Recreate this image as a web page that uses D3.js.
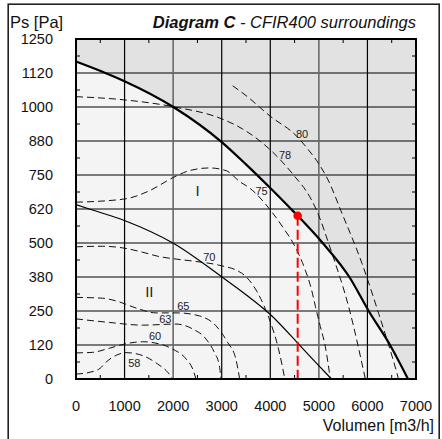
<!DOCTYPE html>
<html>
<head>
<meta charset="utf-8">
<script src="https://cdn.jsdelivr.net/npm/d3@7"></script>
<style>
  body { margin: 0; background: #fff; }
  svg { display: block; }
</style>
</head>
<body>
<div class="chart"></div>
<script>
// axis ticks
let xTicks = [0, 1000, 2000, 3000, 4000, 5000, 6000, 7000]
let yTicks = [0, 125, 250, 375, 500, 625, 750, 875, 1000, 1125, 1250]
let yTickLabels = ["0", "120", "250", "380", "500", "620", "750", "880", "1000", "1120", "1250"]

// fan curves [volume m3/h, pressure Pa]
let fanMax = [[0, 1167], [604, 1125], [1009, 1094], [2004, 1000], [3006, 870], [3500, 789], [4000, 702],
  [4427, 625], [4564, 600], [5079, 500], [5628, 375], [6026, 250], [6465, 125], [6835, 0]]
let fanLow = [[0, 641], [274, 625], [1009, 582], [2004, 499], [3006, 375], [3500, 310], [4001, 237],
  [4560, 133], [4920, 64], [5260, 0]]

// sound level isolines
let iso80 = [[3226, 1078], [3500, 1042], [4000, 966], [4530, 895], [4770, 846], [5003, 790], [5181, 735],
  [5476, 609], [5888, 425], [6231, 241], [6608, 21], [6640, 0]]
let iso78 = [[0, 1038], [1009, 1026], [2004, 1001], [3006, 956], [3432, 919], [4015, 840], [4460, 754],
  [4838, 662], [4941, 625], [5270, 462], [5613, 266], [5957, 0]]
let iso75 = [[0, 650], [1009, 662], [1510, 692], [2004, 741], [2334, 766], [2745, 776], [3089, 766],
  [3376, 725], [3582, 701], [4028, 615], [4270, 555], [4500, 490], [4700, 410], [4851, 327],
  [4930, 266], [5030, 193], [5133, 119], [5236, 0]]
let iso70 = [[0, 486], [549, 488], [1030, 480], [1373, 466], [1716, 450], [2059, 441], [2471, 432],
  [2931, 419], [3411, 389], [3730, 320], [3970, 225], [4170, 110], [4300, 0]]
let iso65 = [[0, 300], [550, 297], [900, 283], [1250, 260], [1650, 243], [2100, 243], [2540, 232],
  [2880, 196], [3120, 135], [3290, 74], [3370, 0]]
let iso63 = [[0, 221], [686, 208], [1373, 198], [2059, 202], [2402, 184], [2677, 147], [2848, 98],
  [2951, 49], [2985, 0]]
let iso60 = [[0, 96], [343, 98], [686, 113], [1009, 129], [1373, 137], [1716, 129], [1990, 110],
  [2265, 74], [2402, 37], [2471, 0]]
let iso58 = [[0, 18], [290, 25], [494, 39], [632, 64], [838, 88], [1030, 97], [1373, 86], [1682, 55],
  [1887, 25], [1990, 0]]

let isoText = ["80", "78", "75", "70", "65", "63", "60", "58"]
let isoLabelX = [4653, 4303, 3822, 2745, 2210, 1840, 1627, 1201]
let isoLabelY = [900, 825, 692, 447, 267, 221, 159, 59]

let regionText = ["I", "II"]
let regionX = [2505, 1510]
let regionY = [693, 321]

// working point
let workPoint = [4564, 600]

let width = 442
let height = 439
let font = "'Liberation Sans', Arial, Helvetica, sans-serif"

let svg = d3.select('.chart')
  .append('svg')
  .attr('width', width)
  .attr('height', height)
  .style('font-family', font)

// outer frame
svg.append('rect')
  .attr('x', 8.2).attr('y', 4.2)
  .attr('width', 431).attr('height', 460)
  .attr('fill', '#fff')
  .attr('stroke', '#222')
  .attr('stroke-width', 1.6)

//scales
let x = d3.scaleLinear().domain([0, 7000]).range([76, 416])
let y = d3.scaleLinear().domain([0, 1250]).range([379, 39])

// backgrounds: dark above max curve, light below
svg.append('rect')
  .attr('x', x(0)).attr('y', y(1250))
  .attr('width', x(7000) - x(0)).attr('height', y(0) - y(1250))
  .attr('fill', '#e2e2e2')

let area = d3.area()
  .x(d => x(d[0]))
  .y0(y(0))
  .y1(d => y(d[1]))
  .curve(d3.curveMonotoneX)

svg.append('path')
  .attr('fill', '#f4f4f4')
  .attr('d', area(fanMax))

// grid
let grid = svg.append('g')
grid.selectAll('.hgrid')
  .data(yTicks.slice(1, -1))
  .join('line')
  .attr('x1', x(0)).attr('x2', x(7000))
  .attr('y1', d => y(d)).attr('y2', d => y(d))
  .attr('stroke', '#000')
  .attr('stroke-width', 1.2)

grid.selectAll('.vgrid')
  .data(xTicks.slice(1, -1))
  .join('line')
  .attr('x1', d => x(d)).attr('x2', d => x(d))
  .attr('y1', y(0)).attr('y2', y(1250))
  .attr('stroke', d => (d == 2000 || d == 5000) ? '#6a6a6a' : '#000')
  .attr('stroke-width', d => (d == 2000 || d == 5000) ? 1.6 : 1.2)

let line = d3.line()
  .x(d => x(d[0]))
  .y(d => y(d[1]))
  .curve(d3.curveMonotoneX)

// isolines
let isolines = [iso80, iso78, iso75, iso70, iso65, iso63, iso60, iso58]
svg.append('g')
  .selectAll('path')
  .data(isolines)
  .join('path')
  .attr('fill', 'none')
  .attr('stroke', '#111')
  .attr('stroke-width', 1)
  .attr('stroke-dasharray', '7,4')
  .attr('d', d => line(d))

// fan curves
svg.append('path')
  .attr('fill', 'none')
  .attr('stroke', '#000')
  .attr('stroke-width', 1.2)
  .attr('d', line(fanLow))

svg.append('path')
  .attr('fill', 'none')
  .attr('stroke', '#000')
  .attr('stroke-width', 2.2)
  .attr('d', line(fanMax))

// working point
svg.append('line')
  .attr('x1', x(workPoint[0])).attr('x2', x(workPoint[0]))
  .attr('y1', y(workPoint[1])).attr('y2', y(0))
  .attr('stroke', '#f00')
  .attr('stroke-width', 2)
  .attr('stroke-dasharray', '10,4')

svg.append('circle')
  .attr('cx', x(workPoint[0]))
  .attr('cy', y(workPoint[1]))
  .attr('r', 4.3)
  .attr('fill', '#f00')

// plot frame
svg.append('rect')
  .attr('x', x(0)).attr('y', y(1250))
  .attr('width', x(7000) - x(0)).attr('height', y(0) - y(1250))
  .attr('fill', 'none')
  .attr('stroke', '#000')
  .attr('stroke-width', 2)

// minor ticks on all four sides
let xMinor = xTicks.slice(0, -1).map(d => d + 500)
let yMinor = yTicks.slice(0, -1).map(d => d + 62.5)
let ticks = svg.append('g').attr('stroke', '#000').attr('stroke-width', 1)
xMinor.forEach(d => {
  ticks.append('line').attr('x1', x(d)).attr('x2', x(d)).attr('y1', y(1250)).attr('y2', y(1250) + 4)
  ticks.append('line').attr('x1', x(d)).attr('x2', x(d)).attr('y1', y(0)).attr('y2', y(0) - 4)
})
yMinor.forEach(d => {
  ticks.append('line').attr('x1', x(0)).attr('x2', x(0) + 4).attr('y1', y(d)).attr('y2', y(d))
  ticks.append('line').attr('x1', x(7000)).attr('x2', x(7000) - 4).attr('y1', y(d)).attr('y2', y(d))
})

// tick labels
svg.append('g')
  .selectAll('text')
  .data(yTicks)
  .join('text')
  .attr('x', 53)
  .attr('y', d => y(d) + 5)
  .attr('text-anchor', 'end')
  .attr('font-size', '14.5px')
  .attr('fill', '#111')
  .text((d, i) => yTickLabels[i])

svg.append('g')
  .selectAll('text')
  .data(xTicks)
  .join('text')
  .attr('x', d => x(d))
  .attr('y', 411)
  .attr('text-anchor', 'middle')
  .attr('font-size', '14.5px')
  .attr('fill', '#111')
  .text(d => d)

// curve labels
svg.append('g')
  .selectAll('text')
  .data(isoText)
  .join('text')
  .attr('x', (d, i) => x(isoLabelX[i]))
  .attr('y', (d, i) => y(isoLabelY[i]) + 4)
  .attr('text-anchor', 'middle')
  .attr('font-size', '11px')
  .attr('fill', '#222')
  .text(d => d)

svg.append('g')
  .selectAll('text')
  .data(regionText)
  .join('text')
  .attr('x', (d, i) => x(regionX[i]))
  .attr('y', (d, i) => y(regionY[i]) + 5.5)
  .attr('text-anchor', 'middle')
  .attr('font-size', '15px')
  .attr('fill', '#222')
  .text(d => d)

// titles
svg.append('text')
  .attr('x', 10).attr('y', 28)
  .attr('font-size', '16.5px')
  .attr('fill', '#111')
  .text('Ps [Pa]')

let title = svg.append('text')
  .attr('x', 416).attr('y', 28)
  .attr('text-anchor', 'end')
  .attr('font-size', '16.5px')
  .attr('font-style', 'italic')
  .attr('fill', '#111')
title.append('tspan').attr('font-weight', 'bold').text('Diagram C')
title.append('tspan').text(' - CFIR400 surroundings')

svg.append('text')
  .attr('x', 434).attr('y', 431)
  .attr('text-anchor', 'end')
  .attr('font-size', '16px')
  .attr('fill', '#111')
  .text('Volumen [m3/h]')
</script>
</body>
</html>
